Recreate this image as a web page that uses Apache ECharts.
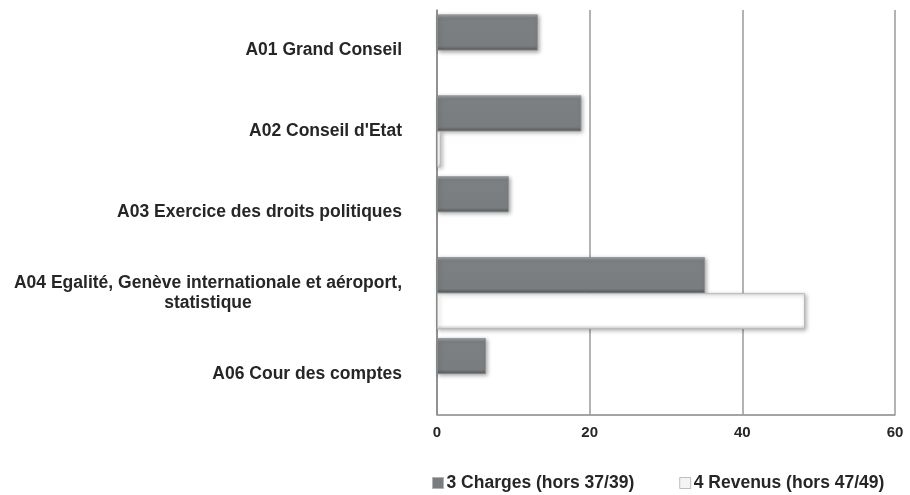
<!DOCTYPE html>
<html>
<head>
<meta charset="utf-8">
<script src="https://cdn.jsdelivr.net/npm/echarts@6/dist/echarts.min.js"></script>
<style>
html,body{margin:0;padding:0;background:#fff;}
#chart{width:910px;height:495px;}
</style>
</head>
<body>
<div id="chart"></div>
<script>
var categories = [
  "A01 Grand Conseil",
  "A02 Conseil d'Etat",
  "A03 Exercice des droits politiques",
  "A04 Egalité, Genève internationale et aéroport,\nstatistique",
  "A06 Cour des comptes"
];
var seriesNames = ["3 Charges (hors 37/39)", "4 Revenus (hors 47/49)"];
var charges = [13.2, 18.9, 9.4, 35.1, 6.4];
var revenus = [null, 0.5, null, 48.2, null];
var xTicks = [0, 20, 40, 60];

var chart = echarts.init(document.getElementById('chart'));
var font = 'Liberation Sans, Arial, Helvetica, sans-serif';

var chargesColor = new echarts.graphic.LinearGradient(0, 0, 0, 1, [
  {offset: 0, color: '#a4a7a9'},
  {offset: 0.1, color: '#7d8083'},
  {offset: 0.88, color: '#7a7d80'},
  {offset: 1, color: '#55585a'}
]);
var revenusColor = new echarts.graphic.LinearGradient(0, 0, 0, 1, [
  {offset: 0, color: '#e6e6e6'},
  {offset: 0.1, color: '#ffffff'},
  {offset: 0.88, color: '#ffffff'},
  {offset: 1, color: '#cfcfcf'}
]);

chart.setOption({
  animation: false,
  backgroundColor: '#ffffff',
  textStyle: {fontFamily: font},
  grid: {left: 437, right: 15, top: 10, bottom: 80.5, containLabel: false},
  legend: {
    left: 432,
    top: 474,
    padding: 0,
    itemWidth: 11,
    itemHeight: 11,
    itemGap: 45,
    icon: 'rect',
    textStyle: {fontFamily: font, fontSize: 17.5, fontWeight: 'bold', color: '#262626', padding: [0, 0, 0, -2]},
    data: [
      {name: seriesNames[0], itemStyle: {color: '#7a7d80', borderColor: '#b0b2b4', borderWidth: 1}},
      {name: seriesNames[1], itemStyle: {color: '#f4f4f4', borderColor: '#bdbdbd', borderWidth: 1}}
    ]
  },
  xAxis: {
    type: 'value',
    min: xTicks[0],
    max: xTicks[xTicks.length - 1],
    interval: 20,
    axisLine: {show: true, lineStyle: {color: '#868686', width: 1.5}},
    axisTick: {show: false},
    splitLine: {show: true, lineStyle: {color: '#9a9a9a', width: 1.5}},
    axisLabel: {
      margin: 11,
      fontFamily: font, fontSize: 15, fontWeight: 'bold', color: '#262626',
      formatter: function (v) { return String(v); }
    }
  },
  yAxis: {
    type: 'category',
    inverse: true,
    data: categories,
    axisLine: {show: true, lineStyle: {color: '#868686', width: 1.5}},
    axisTick: {show: false},
    splitLine: {show: false},
    axisLabel: {
      margin: 35,
      fontFamily: font, fontSize: 17.5, fontWeight: 'bold', color: '#262626',
      lineHeight: 20,
      formatter: function (v) {
        return v.split('\n').map(function (s) { return '{c|' + s + '}'; }).join('\n');
      },
      rich: {
        c: {align: 'center', fontFamily: font, fontSize: 17.5, fontWeight: 'bold', color: '#262626', lineHeight: 20}
      }
    }
  },
  series: [
    {
      name: seriesNames[0],
      type: 'bar',
      data: charges,
      barGap: '0%',
      barCategoryGap: '11%',
      itemStyle: {
        color: chargesColor,
        borderColor: '#8c8f91',
        borderWidth: 0.8,
        shadowColor: 'rgba(0,0,0,0.35)',
        shadowBlur: 4,
        shadowOffsetX: 1.5,
        shadowOffsetY: 1.5
      }
    },
    {
      name: seriesNames[1],
      type: 'bar',
      data: revenus,
      itemStyle: {
        color: revenusColor,
        borderColor: '#b8b8b8',
        borderWidth: 1,
        shadowColor: 'rgba(0,0,0,0.3)',
        shadowBlur: 4,
        shadowOffsetX: 1.5,
        shadowOffsetY: 1.5
      }
    }
  ]
});
</script>
</body>
</html>
